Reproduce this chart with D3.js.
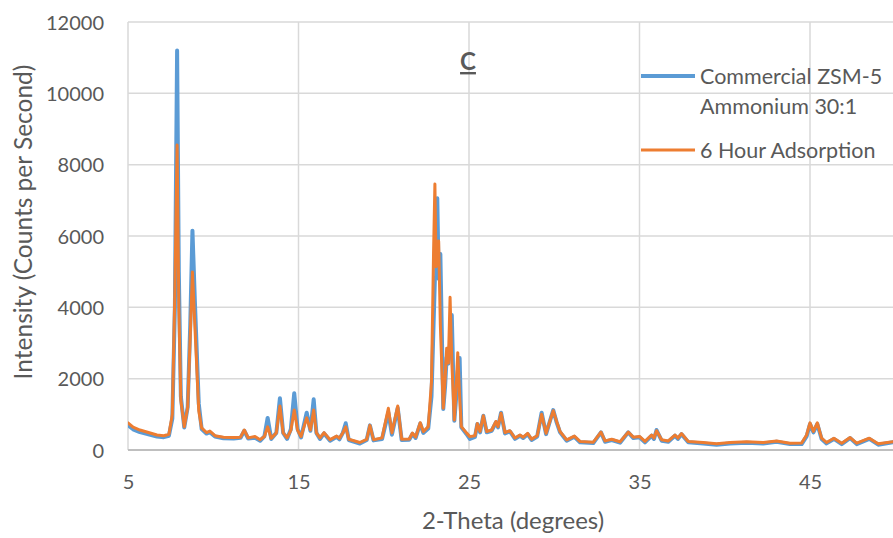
<!DOCTYPE html>
<html lang="en">
<head>
<meta charset="UTF-8">
<title>XRD pattern C</title>
<script src="https://d3js.org/d3.v7.min.js"></script>
<style>
  body { margin: 0; background: #fff; }
  text { font-family: Lato, "Open Sans", sans-serif; fill: #595959; }
</style>
</head>
<body>
<svg id="chart" width="893" height="538"></svg>
<script>
// 2-theta positions (degrees) shared by both scans
const twoTheta = [
  5.0, 5.3, 5.7, 6.2, 6.7, 7.1, 7.4, 7.6, 7.75, 7.88, 7.98, 8.1, 8.3, 8.5, 8.65, 8.78, 8.92, 9.05, 9.15, 9.32,
  9.6, 9.8, 10.1, 10.6, 11.2, 11.6, 11.82, 12.05, 12.45, 12.75, 13.0, 13.19, 13.4, 13.7, 13.91, 14.1, 14.33, 14.55, 14.75, 14.95,
  15.15, 15.48, 15.7, 15.89, 16.05, 16.26, 16.5, 16.85, 17.24, 17.4, 17.6, 17.77, 17.95, 18.6, 19.0, 19.19, 19.4, 19.9, 20.27, 20.48,
  20.82, 21.05, 21.5, 21.68, 21.87, 22.14, 22.32, 22.61, 22.8, 22.92, 23.0, 23.07, 23.14, 23.22, 23.32, 23.49, 23.6, 23.69, 23.79, 23.89,
  23.99, 24.14, 24.25, 24.34, 24.45, 24.55, 24.85, 25.05, 25.35, 25.49, 25.65, 25.84, 26.04, 26.33, 26.58, 26.7, 26.88, 27.11, 27.4, 27.7,
  27.99, 28.18, 28.44, 28.67, 29.0, 29.26, 29.52, 29.94, 30.14, 30.34, 30.73, 31.18, 31.51, 32.29, 32.74, 32.98, 33.37, 33.86, 34.34, 34.64,
  35.0, 35.32, 35.71, 35.85, 36.0, 36.3, 36.69, 37.08, 37.25, 37.46, 37.86, 38.74, 39.52, 40.31, 41.29, 42.26, 43.04, 43.83, 44.51, 44.8,
  45.0, 45.2, 45.43, 45.68, 45.97, 46.4, 46.86, 47.35, 47.74, 48.48, 49.0, 49.87, 50.0
];

// Commercial ZSM-5 Ammonium 30:1 (counts per second)
const commercial = [
  700, 580, 500, 440, 380, 360, 400, 880, 4000, 11200, 5000, 1500, 630, 1200, 3500, 6150, 4200, 2550, 1300, 590,
  460, 500, 380, 330, 320, 340, 540, 320, 340, 260, 380, 900, 310, 480, 1450, 480, 310, 580, 1590, 580,
  350, 1045, 540, 1420, 480, 310, 465, 260, 370, 300, 480, 750, 280, 180, 280, 690, 270, 310, 1050, 430,
  1180, 280, 290, 450, 340, 740, 480, 600, 1500, 3500, 4800, 4860, 7060, 4800, 5495, 1150, 1800, 2600, 2420, 3000,
  3785, 820, 1500, 2200, 2580, 635, 450, 310, 370, 730, 495, 960, 495, 540, 775, 635, 1045, 465, 520, 310,
  400, 335, 445, 280, 380, 1045, 445, 1120, 775, 495, 260, 370, 215, 195, 495, 230, 280, 205, 495, 335,
  355, 215, 400, 310, 560, 260, 230, 400, 310, 445, 215, 185, 150, 185, 205, 185, 230, 165, 165, 380,
  730, 495, 730, 310, 185, 310, 165, 335, 165, 310, 150, 215, 210
];

// 6 Hour Adsorption (counts per second)
const adsorption = [
  760, 640, 560, 490, 420, 400, 440, 1000, 4500, 8550, 4000, 1400, 650, 1200, 3200, 4990, 3500, 2150, 1100, 620,
  490, 530, 400, 360, 350, 360, 560, 340, 380, 290, 380, 650, 330, 480, 1235, 480, 340, 550, 1120, 550,
  380, 900, 560, 1120, 480, 340, 485, 290, 390, 330, 480, 650, 300, 210, 300, 690, 290, 340, 1170, 480,
  1235, 300, 310, 475, 365, 765, 515, 655, 1900, 5500, 7460, 5140, 5500, 5860, 3500, 1170, 2000, 2850, 2440, 4280,
  2500, 840, 1800, 2730, 1500, 655, 480, 375, 400, 740, 520, 960, 520, 560, 800, 655, 1030, 490, 540, 335,
  420, 360, 465, 305, 400, 1000, 470, 1100, 800, 520, 285, 390, 240, 220, 500, 255, 300, 230, 500, 360,
  380, 240, 420, 335, 540, 285, 255, 420, 335, 460, 240, 210, 175, 210, 230, 210, 250, 190, 195, 420,
  760, 520, 760, 335, 210, 330, 190, 350, 190, 330, 175, 235, 235
];

const legendLines = [["Commercial ZSM-5", "Ammonium 30:1"], ["6 Hour Adsorption"]];
const seriesColors = ["#5b9bd5", "#ed7d31"];
const xTicks = [5, 15, 25, 35, 45];
const yTicks = [0, 2000, 4000, 6000, 8000, 10000, 12000];

const svg = d3.select("#chart");
const W = 893, H = 538;
const margin = {left: 128, top: 22, bottom: 88};

const x = d3.scaleLinear().domain([5, 50]).range([margin.left, margin.left + 45 * 17.05]);
const y = d3.scaleLinear().domain([0, 12000]).range([H - margin.bottom, margin.top]);

// gridlines
svg.append("g")
  .selectAll("line")
  .data(yTicks.slice(1))
  .enter().append("line")
  .attr("x1", x(5)).attr("x2", W)
  .attr("y1", d => y(d)).attr("y2", d => y(d))
  .attr("stroke", "#d9d9d9").attr("stroke-width", 1.5);

svg.append("g")
  .selectAll("line")
  .data(xTicks)
  .enter().append("line")
  .attr("x1", d => x(d)).attr("x2", d => x(d))
  .attr("y1", y(12000)).attr("y2", y(0))
  .attr("stroke", "#d9d9d9").attr("stroke-width", 1.5);

// bottom axis line
svg.append("line")
  .attr("x1", x(5)).attr("x2", W)
  .attr("y1", y(0)).attr("y2", y(0))
  .attr("stroke", "#bfbfbf").attr("stroke-width", 2);

// tick labels
const xAxis = d3.axisBottom(x).tickValues(xTicks).tickSize(0).tickPadding(0);
const gx = svg.append("g").attr("transform", `translate(0,${y(0) + 39})`).call(xAxis);
gx.select(".domain").remove();
gx.selectAll("text").attr("font-size", 20).attr("dy", 0).attr("font-family", "Lato").attr("fill", "#595959");

const yAxis = d3.axisLeft(y).tickValues(yTicks).tickFormat(d3.format("d")).tickSize(0).tickPadding(0);
const gy = svg.append("g").attr("transform", `translate(${x(5) - 24},0)`).call(yAxis);
gy.select(".domain").remove();
gy.selectAll("text").attr("font-size", 20).attr("dy", "0.35em").attr("font-family", "Lato").attr("fill", "#595959");

// axis titles
svg.append("text")
  .attr("x", 513).attr("y", 529)
  .attr("text-anchor", "middle")
  .attr("font-size", 24)
  .text("2-Theta (degrees)");

svg.append("text")
  .attr("transform", "translate(32,222) rotate(-90)")
  .attr("text-anchor", "middle")
  .attr("font-size", 24.5)
  .text("Intensity (Counts per Second)");

// chart label
svg.append("text")
  .attr("x", 468).attr("y", 70)
  .attr("text-anchor", "middle")
  .attr("font-size", 24)
  .attr("font-weight", "bold")
  .attr("text-decoration", "underline")
  .text("C");

// plot lines
svg.append("clipPath").attr("id", "plotclip")
  .append("rect").attr("x", x(5)).attr("y", 0).attr("width", W - x(5)).attr("height", y(0) + 3);

const line = d3.line()
  .x((d, i) => x(twoTheta[i]))
  .y(d => y(d));

const plot = svg.append("g").attr("clip-path", "url(#plotclip)");
[commercial, adsorption].forEach((vals, i) => {
  plot.append("path")
    .datum(vals)
    .attr("d", line)
    .attr("fill", "none")
    .attr("stroke", seriesColors[i])
    .attr("stroke-width", i === 0 ? 4 : 3)
    .attr("stroke-linejoin", "round")
    .attr("stroke-linecap", "round");
});

// legend
const legend = svg.append("g");
const legendY = [76, 150];
legendLines.forEach((lines, i) => {
  legend.append("line")
    .attr("x1", 641).attr("x2", 695)
    .attr("y1", legendY[i]).attr("y2", legendY[i])
    .attr("stroke", seriesColors[i])
    .attr("stroke-width", i === 0 ? 4 : 3);
  lines.forEach((t, j) => {
    legend.append("text")
      .attr("x", 700).attr("y", legendY[i] + 30 * j)
      .attr("dy", "0.35em")
      .attr("font-size", 21.5)
      .text(t);
  });
});
</script>
</body>
</html>
